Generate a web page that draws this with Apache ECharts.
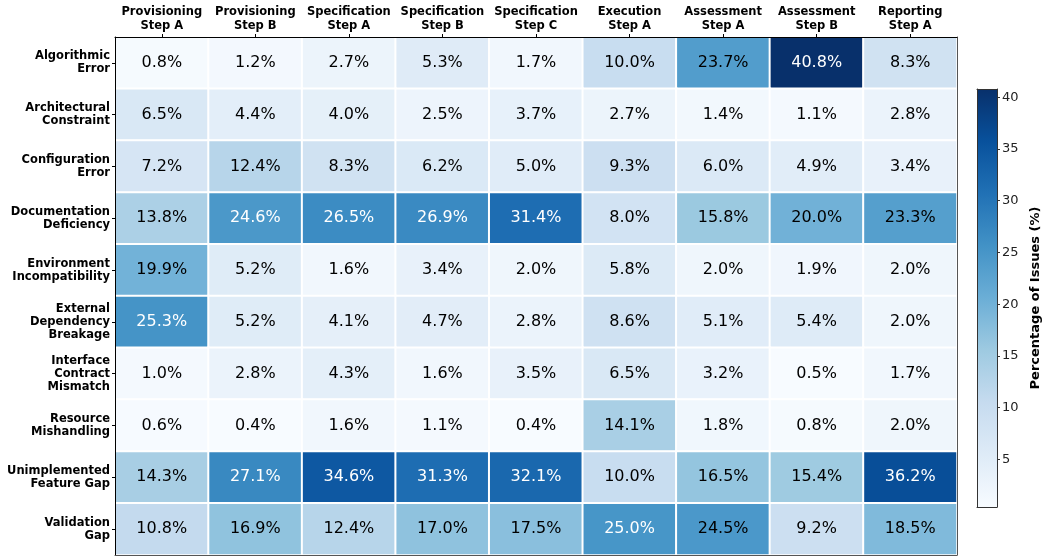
<!DOCTYPE html>
<html>
<head>
<meta charset="utf-8">
<script src="https://cdn.jsdelivr.net/npm/echarts@6/dist/echarts.min.js"></script>
<style>
  html, body { margin: 0; padding: 0; background: #fff; }
  #main { width: 1048px; height: 557px; }
</style>
</head>
<body>
<div id="main"></div>
<script>
let steps = ['Provisioning\nStep A', 'Provisioning\nStep B', 'Specification\nStep A', 'Specification\nStep B',
    'Specification\nStep C', 'Execution\nStep A', 'Assessment\nStep A', 'Assessment\nStep B', 'Reporting\nStep A'];
let issueTypes = ['Algorithmic\nError', 'Architectural\nConstraint', 'Configuration\nError', 'Documentation\nDeficiency',
    'Environment\nIncompatibility', 'External\nDependency\nBreakage', 'Interface\nContract\nMismatch',
    'Resource\nMishandling', 'Unimplemented\nFeature Gap', 'Validation\nGap'];

// one row per issue type, one value per step (percent)
let algorithmic = [0.8, 1.2, 2.7, 5.3, 1.7, 10.0, 23.7, 40.8, 8.3];
let architectural = [6.5, 4.4, 4.0, 2.5, 3.7, 2.7, 1.4, 1.1, 2.8];
let configuration = [7.2, 12.4, 8.3, 6.2, 5.0, 9.3, 6.0, 4.9, 3.4];
let documentation = [13.8, 24.6, 26.5, 26.9, 31.4, 8.0, 15.8, 20.0, 23.3];
let environment = [19.9, 5.2, 1.6, 3.4, 2.0, 5.8, 2.0, 1.9, 2.0];
let externalDep = [25.3, 5.2, 4.1, 4.7, 2.8, 8.6, 5.1, 5.4, 2.0];
let interfaceContract = [1.0, 2.8, 4.3, 1.6, 3.5, 6.5, 3.2, 0.5, 1.7];
let resource = [0.6, 0.4, 1.6, 1.1, 0.4, 14.1, 1.8, 0.8, 2.0];
let unimplemented = [14.3, 27.1, 34.6, 31.3, 32.1, 10.0, 16.5, 15.4, 36.2];
let validation = [10.8, 16.9, 12.4, 17.0, 17.5, 25.0, 24.5, 9.2, 18.5];
let colorbarTicks = [5, 10, 15, 20, 25, 30, 35, 40];

let rows = [algorithmic, architectural, configuration, documentation, environment,
    externalDep, interfaceContract, resource, unimplemented, validation];

// matplotlib "Blues"
let blues = ['#f7fbff', '#deebf7', '#c6dbef', '#9ecae1', '#6baed6', '#4292c6', '#2171b5', '#08519c', '#08306b'];

let allValues = [];
rows.forEach((r) => allValues.push(...r));
let vMin = Math.min(...allValues);
let vMax = Math.max(...allValues);

let cells = [];
rows.forEach((r, y) => {
    r.forEach((v, x) => {
        cells.push({
            value: [x, y, v],
            label: { color: v >= 24.55 ? '#ffffff' : '#000000' }
        });
    });
});

let font = 'DejaVu Sans';

// plain frame axis (no ticks / labels), drawn above the cells
function frameAxis(type, gridIndex, position, color) {
    return {
        type: type, gridIndex: gridIndex, position: position, z: 10,
        data: type === 'category' ? ['f'] : undefined,
        axisLine: { show: true, lineStyle: { color: color } },
        axisTick: { show: false }, axisLabel: { show: false }, splitLine: { show: false }
    };
}

var myChart = echarts.init(document.getElementById('main'), null, { renderer: 'canvas' });
var option = {
    backgroundColor: '#fff',
    animation: false,
    textStyle: { fontFamily: font },
    grid: [
        { left: 115, top: 37, width: 842, height: 518 },
        { left: 977, top: 89, width: 20, height: 418 }
    ],
    xAxis: [
        {
            type: 'category', data: steps, position: 'top', gridIndex: 0, z: 10,
            axisLine: { show: true, lineStyle: { color: '#000' } },
            axisTick: { show: true, alignWithLabel: true, length: 3, lineStyle: { color: '#000' } },
            axisLabel: { fontFamily: font, fontSize: 11.5, fontWeight: 'bold', color: '#000', lineHeight: 14, margin: 4, interval: 0 }
        },
        frameAxis('category', 0, 'bottom', '#555'),
        frameAxis('category', 1, 'bottom', '#333'),
        frameAxis('category', 1, 'top', '#333')
    ],
    yAxis: [
        {
            type: 'category', data: issueTypes, inverse: true, gridIndex: 0, z: 10,
            axisLine: { show: true, lineStyle: { color: '#000' } },
            axisTick: { show: true, alignWithLabel: true, length: 3, lineStyle: { color: '#000' } },
            axisLabel: { fontFamily: font, fontSize: 11.5, fontWeight: 'bold', color: '#000', lineHeight: 13, margin: 5, align: 'right' }
        },
        {
            type: 'value', gridIndex: 1, position: 'right', min: vMin, max: vMax, z: 10,
            name: 'Percentage of Issues (%)', nameLocation: 'middle', nameRotate: 90, nameGap: 32,
            nameTextStyle: { fontFamily: font, fontSize: 13, fontWeight: 'bold', color: '#000' },
            axisLine: { show: true, lineStyle: { color: '#333' } },
            axisTick: { show: true, length: 3, customValues: colorbarTicks, lineStyle: { color: '#333' } },
            axisLabel: { fontFamily: font, fontSize: 13, color: '#222', margin: 5, customValues: colorbarTicks },
            splitLine: { show: false }
        },
        frameAxis('value', 1, 'left', '#333'),
        frameAxis('category', 0, 'right', '#555')
    ],
    visualMap: {
        show: false, min: vMin, max: vMax, seriesIndex: 0, dimension: 2,
        inRange: { color: blues }
    },
    series: [
        {
            type: 'heatmap', xAxisIndex: 0, yAxisIndex: 0,
            data: cells,
            itemStyle: { borderColor: '#ffffff', borderWidth: 2 },
            label: {
                show: true, fontFamily: font, fontSize: 16,
                formatter: (p) => p.value[2].toFixed(1) + '%'
            },
            emphasis: { disabled: true }
        },
        {
            // colorbar: transparent base up to vMin, gradient on top
            type: 'bar', xAxisIndex: 2, yAxisIndex: 1, stack: 'cb', barWidth: '100%',
            data: [vMin], itemStyle: { color: 'rgba(0,0,0,0)' }, silent: true
        },
        {
            type: 'bar', xAxisIndex: 2, yAxisIndex: 1, stack: 'cb', barWidth: '100%',
            data: [vMax - vMin], silent: true,
            itemStyle: {
                color: new echarts.graphic.LinearGradient(0, 1, 0, 0,
                    blues.map((c, i) => ({ offset: i / (blues.length - 1), color: c })))
            }
        }
    ]
};
myChart.setOption(option);
</script>
</body>
</html>
